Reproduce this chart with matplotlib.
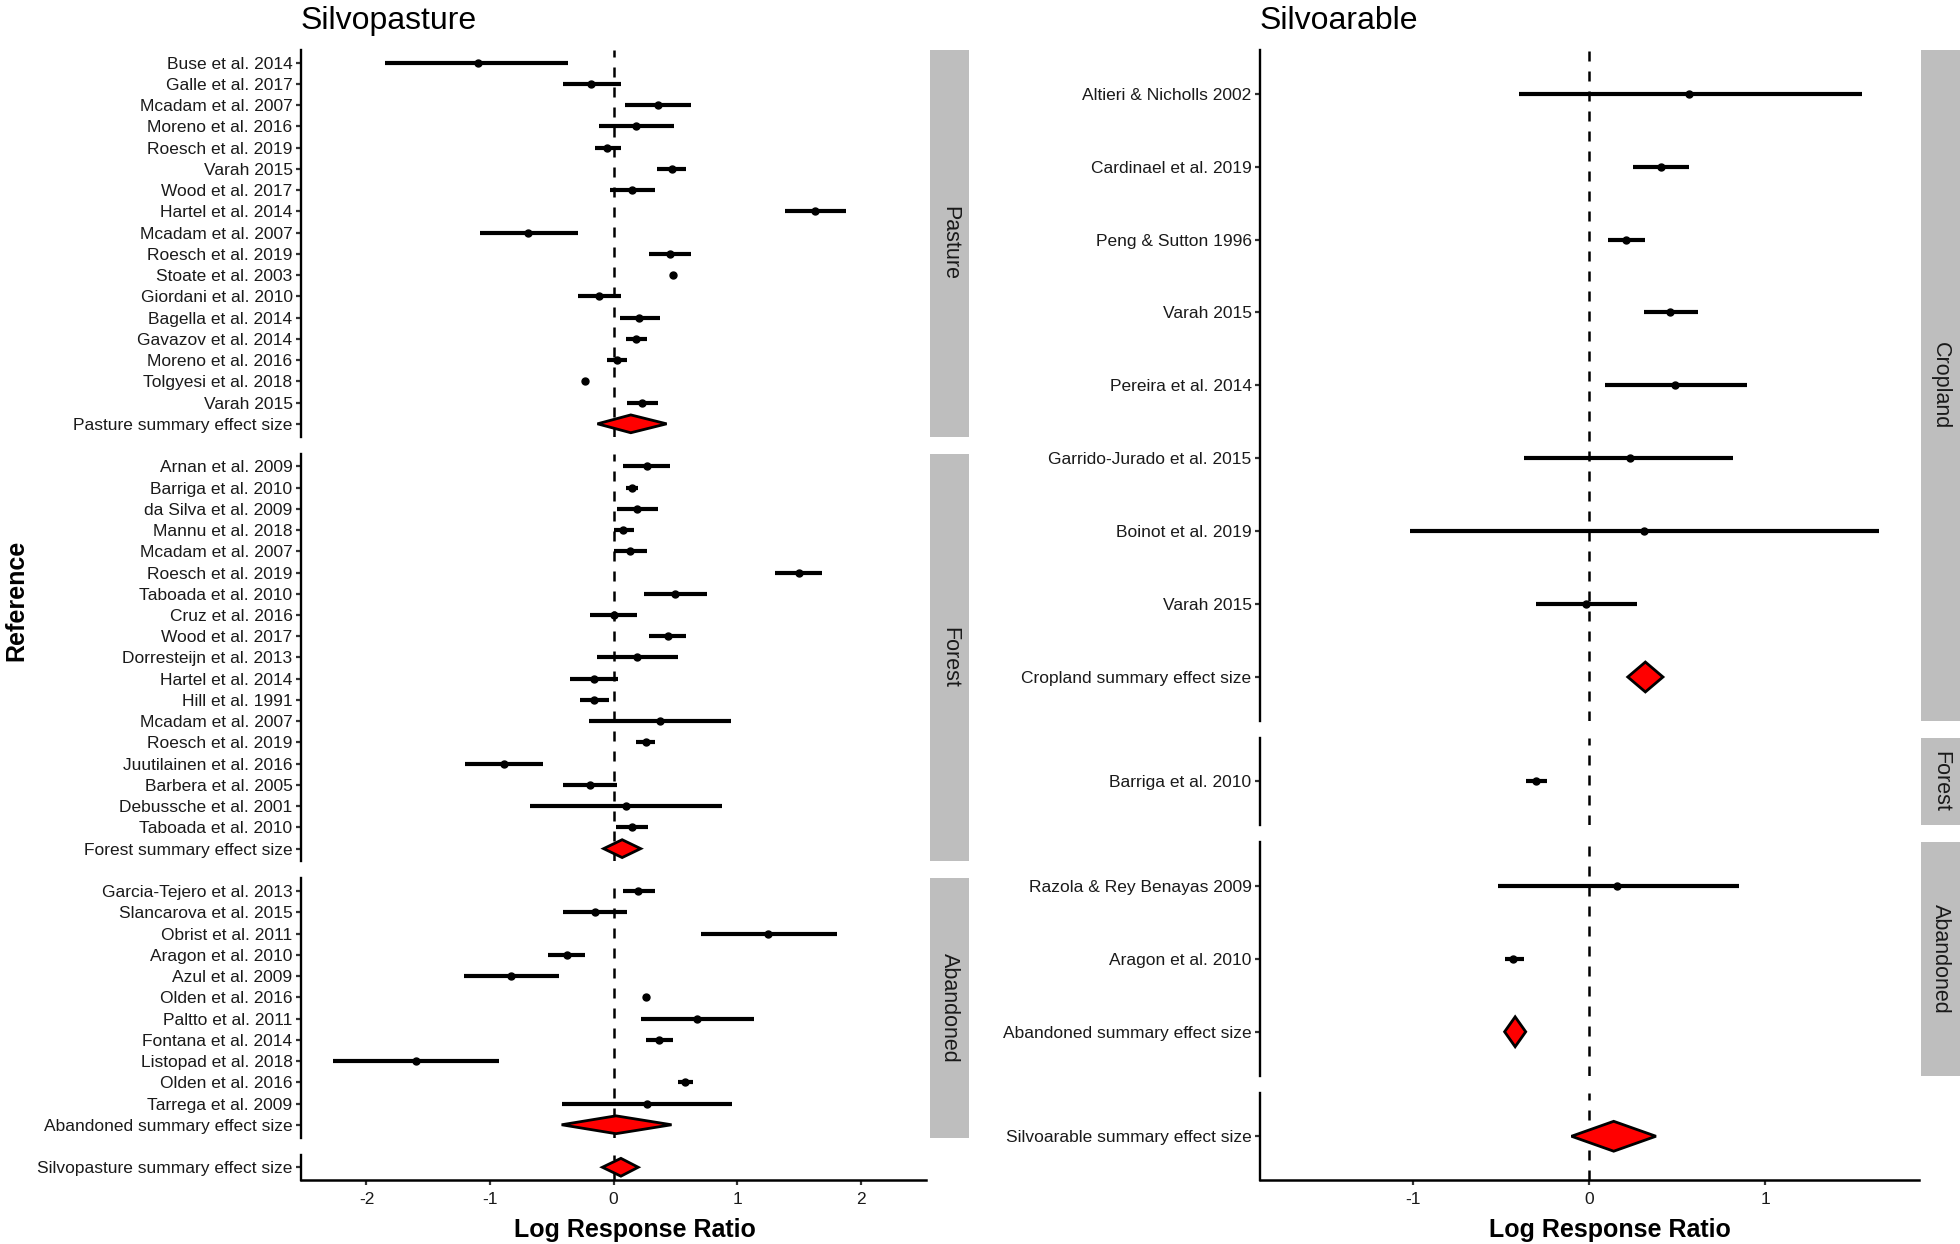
import matplotlib
matplotlib.use('Agg')
import matplotlib.pyplot as plt
from matplotlib.patches import Polygon

plt.rcParams['font.family'] = ['Liberation Sans', 'DejaVu Sans']

# ---------------- data ----------------
pasture_labels = ["Buse et al. 2014", "Galle et al. 2017", "Mcadam et al. 2007", "Moreno et al. 2016",
                  "Roesch et al. 2019", "Varah 2015", "Wood et al. 2017", "Hartel et al. 2014",
                  "Mcadam et al. 2007", "Roesch et al. 2019", "Stoate et al. 2003", "Giordani et al. 2010",
                  "Bagella et al. 2014", "Gavazov et al. 2014", "Moreno et al. 2016", "Tolgyesi et al. 2018",
                  "Varah 2015", "Pasture summary effect size"]
pasture_est = [-1.10, -0.18, 0.36, 0.18, -0.05, 0.47, 0.15, 1.63, -0.69, 0.46, 0.48, -0.12,
               0.21, 0.18, 0.03, -0.23, 0.23, 0.14]
pasture_lo = [-1.85, -0.41, 0.09, -0.12, -0.15, 0.35, -0.03, 1.39, -1.08, 0.29, 0.47, -0.29,
              0.05, 0.10, -0.05, -0.24, 0.11, -0.13]
pasture_hi = [-0.37, 0.06, 0.63, 0.49, 0.06, 0.59, 0.34, 1.88, -0.29, 0.63, 0.49, 0.06,
              0.38, 0.27, 0.11, -0.22, 0.36, 0.43]

forest_labels = ["Arnan et al. 2009", "Barriga et al. 2010", "da Silva et al. 2009", "Mannu et al. 2018",
                 "Mcadam et al. 2007", "Roesch et al. 2019", "Taboada et al. 2010", "Cruz et al. 2016",
                 "Wood et al. 2017", "Dorresteijn et al. 2013", "Hartel et al. 2014", "Hill et al. 1991",
                 "Mcadam et al. 2007", "Roesch et al. 2019", "Juutilainen et al. 2016", "Barbera et al. 2005",
                 "Debussche et al. 2001", "Taboada et al. 2010", "Forest summary effect size"]
forest_est = [0.27, 0.15, 0.19, 0.08, 0.13, 1.50, 0.50, 0.00, 0.44, 0.19, -0.16, -0.16,
              0.38, 0.26, -0.89, -0.19, 0.10, 0.15, 0.07]
forest_lo = [0.08, 0.10, 0.03, 0.00, 0.005, 1.31, 0.25, -0.19, 0.29, -0.13, -0.35, -0.27,
             -0.20, 0.18, -1.20, -0.41, -0.68, 0.02, -0.08]
forest_hi = [0.46, 0.20, 0.36, 0.17, 0.27, 1.69, 0.76, 0.19, 0.59, 0.52, 0.04, -0.04,
             0.95, 0.34, -0.57, 0.03, 0.88, 0.28, 0.22]

aband_labels = ["Garcia-Tejero et al. 2013", "Slancarova et al. 2015", "Obrist et al. 2011",
                "Aragon et al. 2010", "Azul et al. 2009", "Olden et al. 2016", "Paltto et al. 2011",
                "Fontana et al. 2014", "Listopad et al. 2018", "Olden et al. 2016", "Tarrega et al. 2009",
                "Abandoned summary effect size"]
aband_est = [0.20, -0.15, 1.25, -0.38, -0.83, 0.26, 0.68, 0.37, -1.60, 0.58, 0.27, 0.02]
aband_lo = [0.08, -0.41, 0.71, -0.53, -1.21, 0.24, 0.22, 0.26, -2.27, 0.52, -0.42, -0.42]
aband_hi = [0.34, 0.11, 1.81, -0.23, -0.44, 0.28, 1.14, 0.48, -0.93, 0.64, 0.96, 0.47]

silvopasture_labels = ["Silvopasture summary effect size"]
silvopasture_est = [0.06]
silvopasture_lo = [-0.09]
silvopasture_hi = [0.20]

crop_labels = ["Altieri & Nicholls 2002", "Cardinael et al. 2019", "Peng & Sutton 1996", "Varah 2015",
               "Pereira et al. 2014", "Garrido-Jurado et al. 2015", "Boinot et al. 2019", "Varah 2015",
               "Cropland summary effect size"]
crop_est = [0.57, 0.41, 0.21, 0.46, 0.49, 0.23, 0.31, -0.02, 0.32]
crop_lo = [-0.40, 0.25, 0.11, 0.31, 0.09, -0.37, -1.02, -0.30, 0.22]
crop_hi = [1.55, 0.57, 0.32, 0.62, 0.90, 0.82, 1.65, 0.27, 0.42]

sa_forest_labels = ["Barriga et al. 2010"]
sa_forest_est = [-0.30]
sa_forest_lo = [-0.36]
sa_forest_hi = [-0.24]

sa_aband_labels = ["Razola & Rey Benayas 2009", "Aragon et al. 2010", "Abandoned summary effect size"]
sa_aband_est = [0.16, -0.43, -0.42]
sa_aband_lo = [-0.52, -0.48, -0.48]
sa_aband_hi = [0.85, -0.37, -0.36]

silvoarable_labels = ["Silvoarable summary effect size"]
silvoarable_est = [0.14]
silvoarable_lo = [-0.10]
silvoarable_hi = [0.38]

left_facets = [("Pasture", pasture_labels, pasture_est, pasture_lo, pasture_hi),
               ("Forest", forest_labels, forest_est, forest_lo, forest_hi),
               ("Abandoned", aband_labels, aband_est, aband_lo, aband_hi),
               (None, silvopasture_labels, silvopasture_est, silvopasture_lo, silvopasture_hi)]
right_facets = [("Cropland", crop_labels, crop_est, crop_lo, crop_hi),
                ("Forest", sa_forest_labels, sa_forest_est, sa_forest_lo, sa_forest_hi),
                ("Abandoned", sa_aband_labels, sa_aband_est, sa_aband_lo, sa_aband_hi),
                (None, silvoarable_labels, silvoarable_est, silvoarable_lo, silvoarable_hi)]

# ---------------- layout ----------------
W, H = 1960, 1244
fig = plt.figure(figsize=(W / 100, H / 100), dpi=100)
fig.patch.set_facecolor('white')

TOP, BOTTOM, GAP = 50, 1180, 17
TXT = '#1a1a1a'


def px_axes(x0, x1, y0, y1):
    return fig.add_axes([x0 / W, 1 - y1 / H, (x1 - x0) / W, (y1 - y0) / H])


def draw_column(facets, ax_x0, ax_x1, strip_x0, strip_x1, xlim, xticks, dh, title):
    units = [len(f[1]) - 1 + 1.2 for f in facets]
    u = (BOTTOM - TOP - GAP * (len(facets) - 1)) / sum(units)
    y = TOP
    axes = []
    for i, (name, labels, est, lo, hi) in enumerate(facets):
        h = units[i] * u
        ax = px_axes(ax_x0, ax_x1, y, y + h)
        n = len(labels)
        pos = list(range(n))
        ax.set_xlim(*xlim)
        ax.set_ylim(n - 1 + 0.6, -0.6)
        ax.axvline(0, color='black', lw=1.8, ls=(0, (4, 4)), zorder=1)
        for yy, lab, e, l, r in zip(pos, labels, est, lo, hi):
            if 'summary effect size' in lab:
                poly = Polygon([(l, yy), (e, yy - dh), (r, yy), (e, yy + dh)], closed=True,
                               facecolor='#ff0000', edgecolor='black', lw=2.0, zorder=4,
                               joinstyle='miter')
                ax.add_patch(poly)
            else:
                ax.hlines(yy, l, r, color='black', lw=3.0, capstyle='butt', zorder=2)
                ax.plot([e], [yy], 'o', color='black', ms=5, zorder=3)
        ax.set_yticks(pos)
        ax.set_yticklabels(labels, fontsize=12.5, color=TXT)
        ax.tick_params(axis='y', length=3.6, width=1.6, color='#333333', pad=2.5)
        for s in ['top', 'right']:
            ax.spines[s].set_visible(False)
        ax.spines['left'].set_linewidth(1.7)
        last = (i == len(facets) - 1)
        if last:
            ax.spines['bottom'].set_linewidth(1.8)
            ax.set_xticks(xticks)
            ax.set_xticklabels([str(t) for t in xticks], fontsize=12.5, color=TXT)
            ax.tick_params(axis='x', length=3.6, width=1.6, color='#333333', pad=5)
        else:
            ax.spines['bottom'].set_visible(False)
            ax.set_xticks([])
        ax.set_facecolor('none')
        if name is not None:
            sax = px_axes(strip_x0, strip_x1, y, y + h)
            sax.set_facecolor('#bebebe')
            for s in sax.spines.values():
                s.set_visible(False)
            sax.set_xticks([])
            sax.set_yticks([])
            sax.text(0.5, 0.5, name, rotation=-90, ha='center', va='center',
                     fontsize=15.5, color=TXT, transform=sax.transAxes)
        axes.append(ax)
        y += h + GAP
    fig.text(ax_x0 / W, 1 - 29 / H, title, fontsize=23, color='black', ha='left', va='baseline')
    cx = (ax_x0 + strip_x1) / 2
    fig.text(cx / W, 1 - 1237 / H, 'Log Response Ratio', fontsize=18, fontweight='bold',
             ha='center', va='baseline', color='black')
    return axes


draw_column(left_facets, 301, 926, 930, 969, (-2.53, 2.53), [-2, -1, 0, 1, 2], 0.42, 'Silvopasture')
draw_column(right_facets, 1260, 1919, 1921, 1960, (-1.87, 1.875), [-1, 0, 1], 0.205, 'Silvoarable')

fig.text(16 / W, 1 - 600 / H, 'Reference', rotation=90, fontsize=18, fontweight='bold',
         ha='center', va='center', color='black')

fig.savefig('out.png', dpi=100, facecolor='white')
